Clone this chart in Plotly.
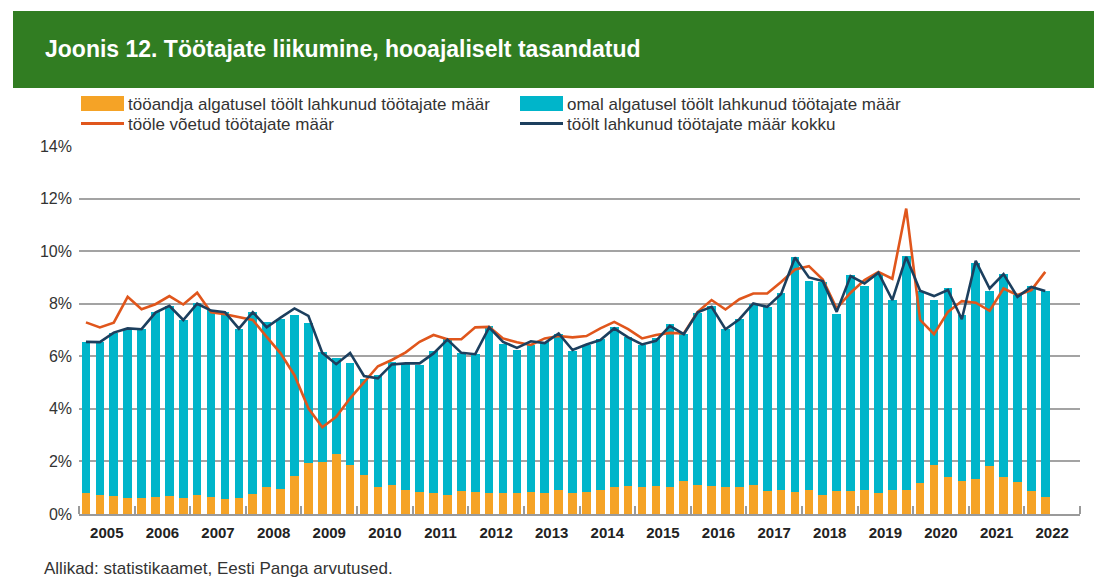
import plotly.graph_objects as go

# ---------------- data ----------------
years = list(range(2005, 2023))
quarters = [f"{y}Q{q}" for y in years for q in range(1, 5)][:70]

# tööandja algatusel töölt lahkunud töötajate määr (%)
tooandja = [0.81, 0.72, 0.68, 0.62,
            0.60, 0.65, 0.68, 0.62,
            0.71, 0.66, 0.57, 0.60,
            0.77, 1.04, 0.95, 1.46,
            1.93, 1.96, 2.27, 1.86,
            1.47, 1.03, 1.10, 0.91,
            0.84, 0.81, 0.72, 0.86,
            0.82, 0.81, 0.81, 0.79,
            0.82, 0.80, 0.90, 0.79,
            0.84, 0.90, 1.01, 1.06,
            1.03, 1.08, 1.01, 1.27,
            1.10, 1.06, 1.03, 1.03,
            1.10, 0.87, 0.91, 0.85,
            0.91, 0.74, 0.89, 0.87,
            0.91, 0.81, 0.90, 0.91,
            1.19, 1.86, 1.42, 1.25,
            1.33, 1.84, 1.42, 1.23,
            0.86, 0.66]

# omal algatusel töölt lahkunud töötajate määr (%)
omal = [5.74, 5.83, 6.19, 6.40,
        6.42, 7.02, 7.24, 6.76,
        7.30, 7.10, 7.12, 6.43,
        6.90, 6.25, 6.45, 6.11,
        5.33, 4.20, 3.67, 3.89,
        3.68, 4.24, 4.69, 4.78,
        4.81, 5.40, 5.92, 5.25,
        5.26, 6.36, 5.65, 5.45,
        5.62, 5.74, 5.94, 5.42,
        5.59, 5.74, 6.09, 5.68,
        5.40, 5.62, 6.20, 5.56,
        6.53, 6.86, 6.00, 6.38,
        6.88, 7.01, 7.48, 8.91,
        7.96, 8.08, 6.73, 8.22,
        7.77, 8.37, 7.24, 8.90,
        7.29, 6.30, 7.19, 6.32,
        8.23, 6.65, 7.71, 7.10,
        7.82, 7.82]

# tööle võetud töötajate määr (%)
toole_voetud = [7.29, 7.10, 7.28, 8.26,
                7.79, 7.98, 8.29, 7.97,
                8.42, 7.67, 7.60, 7.50,
                7.38, 6.74, 6.11, 5.28,
                4.02, 3.30, 3.70, 4.40,
                5.00, 5.62, 5.86, 6.15,
                6.55, 6.81, 6.65, 6.65,
                7.10, 7.12, 6.68, 6.53,
                6.43, 6.68, 6.77, 6.72,
                6.77, 7.06, 7.31, 7.03,
                6.68, 6.81, 6.89, 6.87,
                7.69, 8.14, 7.78, 8.17,
                8.39, 8.39, 8.83, 9.30,
                9.43, 8.92, 7.82, 8.42,
                8.90, 9.21, 8.95, 11.62,
                7.38, 6.84, 7.69, 8.10,
                8.04, 7.73, 8.58, 8.33,
                8.52, 9.21]

# töölt lahkunud töötajate määr kokku (%)
lahkunud_kokku = [6.55, 6.54, 6.90, 7.06,
                  7.03, 7.66, 7.92, 7.38,
                  8.00, 7.74, 7.68, 7.05,
                  7.68, 7.10, 7.47, 7.82,
                  7.54, 6.13, 5.70, 6.13,
                  5.25, 5.16, 5.69, 5.73,
                  5.73, 6.11, 6.64, 6.13,
                  6.08, 7.10, 6.55, 6.32,
                  6.57, 6.50, 6.87, 6.24,
                  6.45, 6.62, 7.06, 6.72,
                  6.45, 6.59, 7.16, 6.84,
                  7.67, 7.88, 7.03, 7.41,
                  8.01, 7.88, 8.37, 9.76,
                  9.00, 8.86, 7.69, 9.05,
                  8.77, 9.18, 8.14, 9.78,
                  8.49, 8.29, 8.52, 7.41,
                  9.63, 8.58, 9.13, 8.26,
                  8.64, 8.48]

y_ticks = [0, 2, 4, 6, 8, 10, 12, 14]
year_labels = [str(y) for y in years]

names = ["tööandja algatusel töölt lahkunud töötajate määr",
         "omal algatusel töölt lahkunud töötajate määr",
         "tööle võetud töötajate määr",
         "töölt lahkunud töötajate määr kokku"]
title_text = "Joonis 12. Töötajate liikumine, hooajaliselt tasandatud"
source_text = "Allikad: statistikaamet, Eesti Panga arvutused."

# ---------------- styling ----------------
C_ORANGE_BAR = "#F5A326"
C_CYAN = "#00B5CA"
C_ORANGE_LINE = "#E0561C"
C_NAVY = "#1C3F5E"
C_GREEN = "#317D22"
GRID = "#A3A3A3"
FONT = "Liberation Sans, Arial, sans-serif"

W, H = 1094, 580
L, R, T, B = 79, 1080, 146, 514  # plot area in pixels


def px(xp):
    return (xp - L) / (R - L)


def py(yp):
    return (B - yp) / (B - T)


x = [int(s[:4]) + (int(s[-1]) - 0.5) / 4 for s in quarters]

fig = go.Figure()
fig.add_trace(go.Bar(x=x, y=tooandja, name=names[0], marker_color=C_ORANGE_BAR,
                     marker_line_width=0, showlegend=False))
fig.add_trace(go.Bar(x=x, y=omal, name=names[1], marker_color=C_CYAN,
                     marker_line_width=0, showlegend=False))
fig.add_trace(go.Scatter(x=x, y=toole_voetud, name=names[2], mode="lines",
                         line=dict(color=C_ORANGE_LINE, width=2.6), showlegend=False))
fig.add_trace(go.Scatter(x=x, y=lahkunud_kokku, name=names[3], mode="lines",
                         line=dict(color=C_NAVY, width=2.6), showlegend=False))

shapes = []
annotations = []

# green title band
shapes.append(dict(type="rect", xref="paper", yref="paper",
                   x0=px(13), x1=px(1100), y0=py(88), y1=py(11),
                   fillcolor=C_GREEN, line_width=0, layer="below"))
annotations.append(dict(xref="paper", yref="paper", x=px(43), y=py(49),
                        xanchor="left", yanchor="middle", showarrow=False,
                        text=title_text,
                        font=dict(family=FONT, size=23, color="white", weight="bold")))

# manual legend
leg = [
    (81, 103.5, "rect", C_ORANGE_BAR, names[0]),
    (520, 103.5, "rect", C_CYAN, names[1]),
    (81, 123.5, "line", C_ORANGE_LINE, names[2]),
    (520, 123.5, "line", C_NAVY, names[3]),
]
for x0p, ycen, kind, col, label in leg:
    x1p = x0p + 43
    if kind == "rect":
        shapes.append(dict(type="rect", xref="paper", yref="paper",
                           x0=px(x0p), x1=px(x1p), y0=py(ycen + 7.5), y1=py(ycen - 7.5),
                           fillcolor=col, line_width=0))
    else:
        shapes.append(dict(type="line", xref="paper", yref="paper",
                           x0=px(x0p), x1=px(x1p), y0=py(ycen), y1=py(ycen),
                           line=dict(color=col, width=3)))
    annotations.append(dict(xref="paper", yref="paper", x=px(x1p + 2), y=py(ycen + 1.5),
                            xanchor="left", yanchor="middle", showarrow=False,
                            text=label, font=dict(family=FONT, size=17, color="#333333")))

# source
annotations.append(dict(xref="paper", yref="paper", x=px(42), y=py(568),
                        xanchor="left", yanchor="middle", showarrow=False,
                        text=source_text, font=dict(family=FONT, size=17, color="#333333")))

fig.update_layout(
    width=W, height=H,
    margin=dict(l=L, r=W - R, t=T, b=H - B, pad=0),
    barmode="stack", bargap=0.38,
    plot_bgcolor="white", paper_bgcolor="white",
    font=dict(family=FONT, size=15, color="#333333"),
    shapes=shapes, annotations=annotations,
    xaxis=dict(range=[years[0], years[-1] + 1], tickmode="array",
               tickvals=[y + 0.5 for y in years], ticktext=year_labels,
               ticks="", showgrid=False, zeroline=False,
               showline=True, linecolor="#9A9A9A", linewidth=2,
               tickfont=dict(family=FONT, size=15, color="#222222", weight="bold"),
               ticklabelstandoff=4,
               minor=dict(tickmode="array", tickvals=years + [years[-1] + 1],
                          ticks="inside", ticklen=8, tickwidth=2,
                          tickcolor="#9A9A9A", showgrid=False)),
    yaxis=dict(range=[0, 14], tickmode="array", tickvals=y_ticks,
               ticktext=[f"{v}%" for v in y_ticks],
               showgrid=True, gridcolor=GRID, gridwidth=1.5,
               zeroline=False, showline=False, ticks="",
               ticklabelstandoff=6,
               tickfont=dict(family=FONT, size=16, color="#333333")),
)

fig.write_html("out.html", config={"displayModeBar": False},
               post_script="document.body.style.margin='0';")
